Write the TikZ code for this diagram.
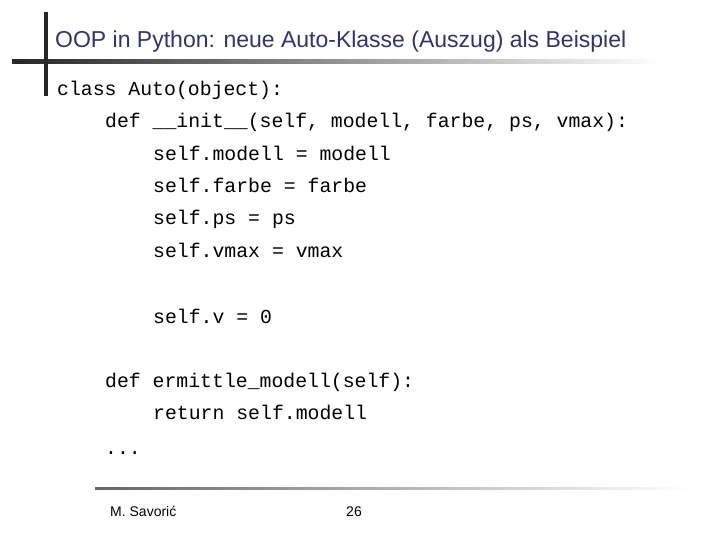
\documentclass[tikz,border=0pt]{standalone}
\usepackage{fontspec}
\setmainfont{Liberation Sans}
\setmonofont{Liberation Mono}
\definecolor{titlec}{HTML}{333366}
\begin{document}
\begin{tikzpicture}[x=1pt,y=-1pt,
  code/.style={anchor=base west,inner sep=0pt,font=\ttfamily\fontsize{19.8}{22}\selectfont},
  foot/.style={inner sep=0pt,anchor=base,font=\fontsize{14}{16}\selectfont}]
\useasboundingbox (0,0) rectangle (720,540);
\fill[left color=black!85,right color=white] (12,60) rectangle (660,64);
\fill[black!85] (44,12) rectangle (48,96);
\fill[left color=black!60,right color=white] (95,487) rectangle (690,489);
\node[anchor=base west,inner sep=0pt,text=titlec,font=\fontsize{23}{26}\selectfont] (title) at (55,48) {OOP in Python: neue Auto-Klasse (Auszug) als Beispiel};
\node[code] (l1) at (57,96) {class Auto(object):};
\node[code] (l2) at (105,128) {def \_\_init\_\_(self, modell, farbe, ps, vmax):};
\node[code] (l3) at (153,161) {self.modell = modell};
\node[code] (l4) at (153,193) {self.farbe = farbe};
\node[code] (l5) at (153,225) {self.ps = ps};
\node[code] (l6) at (153,258) {self.vmax = vmax};
\node[code] (l7) at (153,323) {self.v = 0};
\node[code] (l8) at (105,387) {def ermittle\_modell(self):};
\node[code] (l9) at (153,419) {return self.modell};
\node[code] (l10) at (105,454) {...};
\node[foot,anchor=base west] (f1) at (110,516) {M. Savorić};
\node[foot] (f2) at (354,516) {26};
\end{tikzpicture}
\end{document}
